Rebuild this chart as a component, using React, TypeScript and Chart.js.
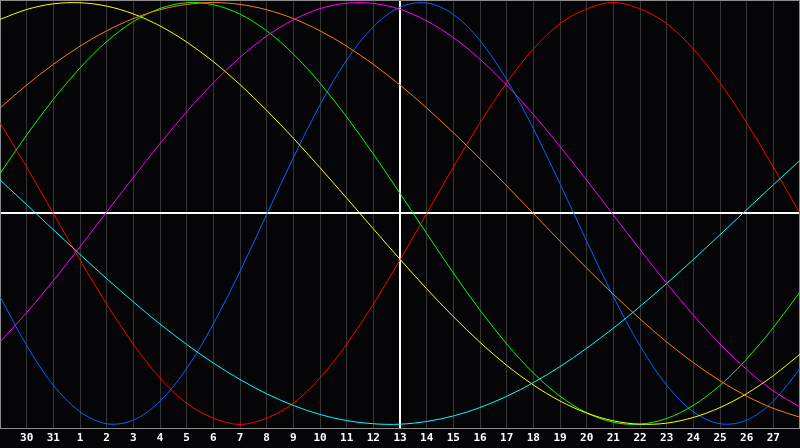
import React, { useEffect, useRef } from "react";
import { Chart, registerables } from "chart.js";

Chart.register(...registerables);

// Day labels (x positions 0..30); first and last are edge days with no label shown
const days = ["29", "30", "31", "1", "2", "3", "4", "5", "6", "7", "8", "9", "10", "11", "12", "13", "14", "15", "16", "17", "18", "19", "20", "21", "22", "23", "24", "25", "26", "27", "28"];
const todayIndex = 15;

const red = [0.43, 0.22, 0, -0.22, -0.43, -0.62, -0.78, -0.9, -0.97, -1, -0.97, -0.9, -0.78, -0.62, -0.43, -0.22, 0, 0.22, 0.43, 0.62, 0.78, 0.9, 0.97, 1, 0.97, 0.9, 0.78, 0.62, 0.43, 0.22, 0];
const blue = [-0.394, -0.626, -0.814, -0.94, -0.997, -0.98, -0.89, -0.735, -0.524, -0.275, -0.005, 0.264, 0.515, 0.727, 0.885, 0.978, 0.998, 0.944, 0.82, 0.635, 0.403, 0.141, -0.131, -0.394, -0.627, -0.814, -0.94, -0.997, -0.98, -0.89, -0.735];
const green = [0.189, 0.372, 0.541, 0.69, 0.815, 0.91, 0.972, 0.999, 0.99, 0.945, 0.866, 0.756, 0.618, 0.458, 0.282, 0.095, -0.095, -0.282, -0.458, -0.618, -0.756, -0.866, -0.945, -0.99, -0.999, -0.972, -0.91, -0.815, -0.69, -0.541, -0.372];
const yellow = [0.92, 0.967, 0.994, 0.999, 0.983, 0.946, 0.889, 0.813, 0.72, 0.611, 0.489, 0.357, 0.217, 0.073, -0.073, -0.217, -0.357, -0.489, -0.611, -0.72, -0.813, -0.889, -0.946, -0.983, -0.999, -0.994, -0.967, -0.92, -0.854, -0.769, -0.667];
const orange = [0.5, 0.609, 0.707, 0.793, 0.866, 0.924, 0.966, 0.991, 1, 0.991, 0.966, 0.924, 0.866, 0.793, 0.707, 0.609, 0.5, 0.383, 0.259, 0.131, 0, -0.131, -0.259, -0.383, -0.5, -0.609, -0.707, -0.793, -0.866, -0.924, -0.966];
const magenta = [-0.609, -0.47, -0.319, -0.158, 0.007, 0.171, 0.331, 0.482, 0.619, 0.74, 0.841, 0.918, 0.971, 0.997, 0.996, 0.968, 0.913, 0.834, 0.731, 0.609, 0.47, 0.318, 0.158, -0.007, -0.171, -0.331, -0.482, -0.619, -0.74, -0.841, -0.918];
const cyan = [0.159, 0.042, -0.077, -0.194, -0.309, -0.419, -0.524, -0.621, -0.709, -0.787, -0.855, -0.91, -0.953, -0.982, -0.997, -0.999, -0.986, -0.96, -0.92, -0.867, -0.802, -0.726, -0.639, -0.544, -0.441, -0.332, -0.218, -0.101, 0.018, 0.136, 0.252];

const seriesList = [
  { name: "cyan", values: cyan, color: "#00ffff" },
  { name: "magenta", values: magenta, color: "#ff00ff" },
  { name: "orange", values: orange, color: "#ff8000" },
  { name: "yellow", values: yellow, color: "#ffff00" },
  { name: "green", values: green, color: "#00ff00" },
  { name: "blue", values: blue, color: "#0066ff" },
  { name: "red", values: red, color: "#ff0000" },
];

const framePlugin = {
  id: "frame",
  beforeDatasetsDraw(chart: any) {
    const { ctx, chartArea } = chart;
    ctx.save();
    ctx.strokeStyle = "#8c8c8c";
    ctx.lineWidth = 1;
    ctx.strokeRect(chartArea.left + 0.5, chartArea.top + 0.5, chartArea.right - chartArea.left - 1, chartArea.bottom - chartArea.top);
    ctx.restore();
  },
};

export default function App() {
  const ref = useRef<HTMLCanvasElement | null>(null);
  useEffect(() => {
    if (!ref.current) return;
    const chart = new Chart(ref.current, {
      type: "line",
      data: {
        labels: days,
        datasets: seriesList.map((s) => ({
          label: s.name,
          data: s.values,
          borderColor: s.color,
          borderWidth: 1,
          pointRadius: 0,
          tension: 0.33,
          fill: false,
        })),
      },
      options: {
        animation: false,
        responsive: false,
        devicePixelRatio: 1,
        layout: { padding: 0, autoPadding: false },
        plugins: { legend: { display: false }, tooltip: { enabled: false } },
        scales: {
          x: {
            type: "category",
            offset: false,
            border: { display: false },
            grid: {
              offset: false,
              drawTicks: false,
              color: (c: any) => (c.index === todayIndex ? "#ffffff" : c.index === 0 || c.index === days.length - 1 ? "transparent" : "#363636"),
              lineWidth: (c: any) => (c.index === todayIndex ? 2 : 1),
            },
            ticks: {
              color: "#ffffff",
              autoSkip: false,
              maxRotation: 0,
              padding: 4,
              font: { family: "DejaVu Sans Mono", weight: "bold", size: 11 },
              callback: (_v: any, i: number) => (i === 0 || i === days.length - 1 ? "" : days[i]),
            },
            afterFit: (s: any) => {
              s.height = 20;
              s.paddingLeft = 0;
              s.paddingRight = 0;
            },
          },
          y: {
            min: -1.017,
            max: 1.012,
            border: { display: false },
            ticks: { display: false },
            grid: {
              drawTicks: false,
              color: (c: any) => (c.tick && c.tick.value === 0 ? "#ffffff" : "transparent"),
              lineWidth: 2,
            },
            afterBuildTicks: (s: any) => {
              s.ticks = [{ value: 0 }];
            },
            afterFit: (s: any) => {
              s.width = 0;
              s.paddingTop = 0;
              s.paddingBottom = 0;
            },
          },
        },
      },
      plugins: [framePlugin],
    });
    return () => chart.destroy();
  }, []);
  return (
    <div style={{ position: "absolute", left: 0, top: 0, width: 800, height: 448, background: "#050508" }}>
      <canvas ref={ref} width={800} height={448} style={{ display: "block" }} />
    </div>
  );
}
